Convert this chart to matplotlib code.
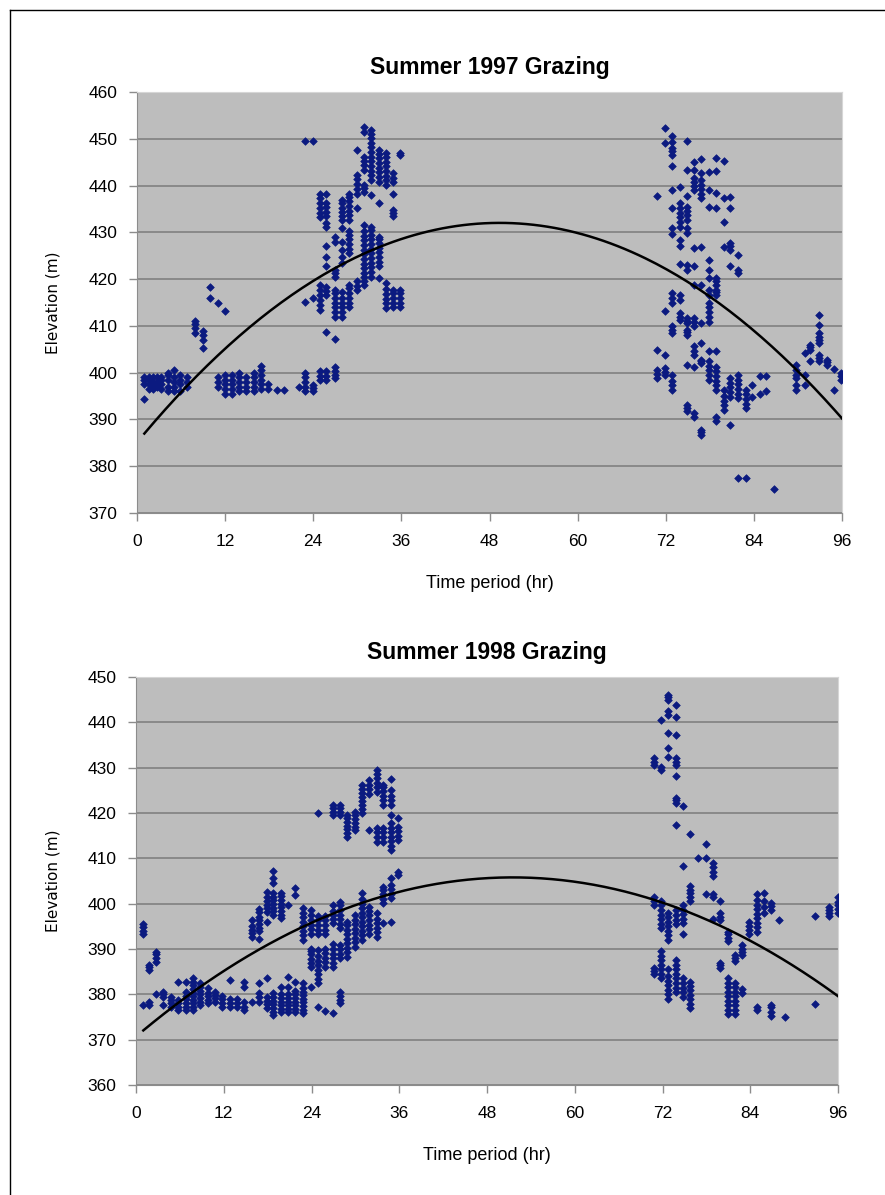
import numpy as np
import matplotlib
matplotlib.use("Agg")
import matplotlib.pyplot as plt
from matplotlib.lines import Line2D


# Summer 1997 grazing: each time (hr) has a stack of elevations (m)
t97_early = [1.0, 1.7, 2.2, 2.7, 3.3, 4.2, 5.1, 5.9, 6.8, 7.9, 9.0, 10.0, 11.0, 12.0,
             12.9, 13.9, 14.9, 15.9, 16.9, 17.8, 19.0, 20.0]
e97_early = [
    [394.4, 397.5, 398.5, 399], [396.5, 397.5, 398.5, 399], [396.5, 397.2, 398, 399],
    [397, 398, 399], [396.5, 397.5, 398.5, 399], [396, 397, 398.5, 399.5, 400],
    [396, 397, 398, 399, 400.5], [396, 397.5, 398.5, 399.5], [397, 398, 399],
    [408.5, 409.5, 410.5, 411], [405.3, 407, 408, 409], [416, 418.3],
    [397, 398, 399, 415], [395.5, 396.5, 397.5, 398.5, 399.5, 413.2],
    [395.5, 396.5, 397.5, 398.5, 399.5], [396, 397, 398, 399, 400],
    [396, 397, 398, 399], [396, 397, 398, 399, 400],
    [396.5, 397.5, 398.5, 399.5, 400.5, 401.5], [396.5, 397.5], [396.3], [396.3],
]

t97_mid = [22.0, 22.9, 24.0, 24.9, 25.8, 26.9, 27.9, 28.9, 29.9, 30.9, 31.9, 32.9,
           33.9, 34.8, 35.8]
e97_mid = [
    [396.9],
    [396, 397, 398, 399, 399.9, 415.1, 449.6],
    [396, 396.7, 397.4, 415.9, 449.6],
    [398.5, 399.2, 400.3, 413.4, 414.5, 415.6, 416.6, 417.7, 418.8, 433.2, 434.1,
     435.1, 436.2, 437.3, 438.2],
    [398.5, 399.2, 400.3, 408.8, 416.6, 417.5, 418.4, 422.7, 424.8, 427, 431.2, 432,
     433.4, 434.4, 435.5, 436.2, 438.2],
    [398.8, 399.5, 400.3, 401.3, 407.2, 412, 413, 414, 415, 416, 417, 417.7, 420.5,
     421.3, 422, 428, 429.1],
    [412, 413, 414, 415, 416, 417.3, 423.4, 424.8, 426.2, 428, 430.9, 432.6, 433.5,
     434.4, 435.3, 436.2, 437],
    [414.1, 415, 416, 417, 418, 418.8, 425.5, 426.5, 427.5, 428.5, 429.5, 430.2,
     432.6, 433.6, 434.6, 435.6, 436.6, 437.6, 438.3],
    [417.7, 418.5, 419.5, 435.1, 438.3, 439.3, 440.3, 441.3, 442.3, 447.6],
    [418.8, 419.7, 420.5, 421.3, 422.3, 423.3, 424.3, 425.3, 426.3, 427.3, 428.3,
     429.3, 430.3, 431.6, 438.7, 439.5, 440.1, 443.3, 444.3, 445.3, 446.2, 451.5, 452.6],
    [420.5, 421.5, 422.5, 423.5, 424.5, 425.5, 426.5, 427.5, 428.5, 429.5, 430.5,
     431.2, 438, 441.2, 442.2, 443.2, 444.2, 445.2, 446.2, 447.2, 448.2, 449.2, 450.2,
     451, 451.9],
    [420.2, 422.7, 423.7, 424.7, 425.7, 426.7, 427.7, 428.5, 429.1, 436.2, 440.8,
     441.8, 442.8, 443.8, 444.8, 445.8, 446.8, 447.6],
    [413.8, 414.8, 415.8, 416.8, 417.8, 419.1, 440.1, 441.1, 442.1, 443.1, 444.1,
     445.1, 446.1, 446.9],
    [414.1, 415, 416, 417, 417.7, 433.4, 434.1, 434.8, 438.3, 440.8, 441.7, 442.6],
    [414.1, 415, 416, 417, 417.7, 446.5, 447],
]

t97_late = [70.8, 71.9, 72.9, 73.9, 74.9, 75.9, 76.8, 77.9, 78.8, 79.9, 80.8, 81.8,
            82.9, 83.8, 84.8, 85.7, 86.8, 89.8, 90.9, 91.7, 92.9, 93.9, 94.9, 95.8]
e97_late = [
    [398.8, 399.7, 400.6, 404.9, 437.8],
    [399.5, 400.2, 401, 403.8, 413.1, 449.2, 452.2],
    [396.3, 397.3, 398.3, 399.5, 408.4, 409.2, 409.9, 414.8, 416, 417, 429.7, 430.9,
     435.3, 439.1, 444.2, 446.5, 447.3, 448, 449.4, 450.6],
    [411.3, 412, 412.7, 415.6, 416.6, 423.2, 427.1, 428.4, 431.2, 432.2, 433.2, 434.2,
     435.2, 436.2, 439.6],
    [391.7, 392.4, 393.1, 401.7, 408.1, 408.6, 409.1, 410.6, 411.1, 411.6, 421.9, 423,
     429.8, 430.9, 432.7, 433.6, 434.5, 435.5, 437.8, 443.3, 449.5],
    [390.6, 391.3, 401.3, 403.8, 404.7, 405.6, 409.9, 410.8, 411.6, 418.8, 422.7,
     426.6, 439.1, 439.9, 440.8, 441.6, 443.3, 445.1],
    [386.7, 387.3, 387.8, 402, 402.4, 402.7, 406.3, 410.6, 418.8, 426.9, 437.3, 438.2,
     439.2, 440.2, 441.2, 442.6, 445.6],
    [398.5, 399.5, 400.5, 401.5, 402.4, 404.7, 410.9, 412, 413, 414, 414.8, 416.6,
     417.7, 420.2, 422, 424.1, 435.5, 439.1, 443],
    [389.6, 390.6, 396.3, 397.3, 398.3, 399.3, 400.3, 401.3, 404.7, 416.6, 417.2,
     417.7, 418.8, 419.5, 420.2, 435.3, 438.5, 443.1, 445.8],
    [392, 393, 394, 395, 396.3, 426.9, 432.3, 437.3, 445.3],
    [388.9, 394.9, 395.9, 396.9, 397.8, 398.8, 422.7, 426.2, 427, 427.7, 435.3, 437.5],
    [377.4, 394.5, 395.5, 396.5, 397.5, 398.5, 399.5, 421.3, 422, 425.2],
    [377.4, 392.4, 393.4, 394.4, 395.4, 396.3],
    [394.9, 397.4], [395.5, 399.3], [396, 399.3], [375.1],
    [396.3, 397.3, 398.8, 399.5, 400.5, 401.7],
    [397.4, 399.5, 404.2],
    [402.5, 404.9, 405.4, 405.9],
    [402.4, 403.1, 403.8, 406.3, 407, 407.7, 408.4, 410.2, 412.4],
    [401.7, 402.2, 402.7], [396.3, 400.8], [398.5, 399.2, 399.9],
]

# Summer 1998 grazing
t98_early = [0.9, 1.8, 2.7, 3.7, 4.8, 5.8, 6.8, 7.8, 8.8, 9.8, 10.8, 11.8, 12.9, 13.8,
             14.8, 15.8, 16.8, 17.9, 18.8, 19.8, 20.8, 21.8]
e98_early = [
    [377.6, 393.3, 394, 394.8, 395.5],
    [377.6, 378.4, 385.3, 386, 386.5],
    [380, 387.2, 388, 388.8, 389.4],
    [377.6, 379.5, 380.1, 380.6],
    [377.3, 378, 378.8, 379.5],
    [376.5, 377.2, 378, 378.7, 382.8],
    [376.5, 377.3, 378.1, 378.9, 379.7, 380.5, 382.8],
    [376.5, 377.3, 378, 378.8, 379.6, 380.4, 381.2, 382, 382.8, 383.5],
    [377.6, 378.4, 379.2, 380, 380.8, 381.6, 382.4],
    [378, 378.8, 379.6, 380.4, 381.3],
    [378.3, 379.1, 379.9, 380.6],
    [377.3, 378.1, 378.9, 379.7],
    [377.3, 378.1, 378.9, 383.1],
    [377.3, 378.1, 378.9],
    [376.5, 377.3, 378.2, 381.7, 382.8],
    [378.2, 392.7, 393.5, 394.3, 395.1, 396.4],
    [378.2, 379.5, 380.3, 382.4, 392.3, 393.9, 394.7, 395.5, 396.3, 397.1, 398.1, 398.9],
    [377, 377.8, 378.6, 379.4, 383.5, 396, 398.2, 399, 399.8, 400.6, 401.4, 402.6],
    [375.4, 376.2, 377, 377.8, 378.6, 379.4, 380.2, 397.5, 398.3, 399.1, 399.9, 400.7,
     401.5, 402.3, 404.5, 405.7, 407.1],
    [376, 376.8, 377.6, 378.4, 379.2, 380, 381.7, 396.8, 397.6, 398.4, 399.2, 400,
     400.8, 401.6, 402.3],
    [376, 376.8, 377.6, 378.4, 379.2, 380, 381.7, 383.9, 399.7],
    [376, 376.8, 377.6, 378.4, 379.2, 380, 380.8, 382.8, 401.9, 403.4],
]

t98_mid = [22.8, 23.9, 24.9, 25.8, 26.9, 27.9, 28.9, 29.9, 30.9, 31.9, 32.9, 33.8,
           34.9, 35.8]
e98_mid = [
    [375.8, 376.6, 377.4, 378.2, 379, 379.8, 380.6, 381.4, 382.4, 392, 393, 394, 395,
     396, 397, 398, 399],
    [381.7, 386.1, 387, 387.9, 388.8, 389.6, 390.1, 393.4, 394.4, 395.4, 396.4, 397.4,
     398.6],
    [377.3, 382.4, 383.4, 384.4, 385.4, 386.4, 387.4, 388.4, 389.8, 393.3, 394.3,
     395.3, 396.3, 397.3, 420.1],
    [376.3, 386.1, 387.1, 388.1, 389.1, 390.1, 393.3, 394.3, 395.3, 396.3, 397.3],
    [375.8, 386.1, 387, 388, 389, 390, 391.2, 395.7, 396.6, 397.5, 398.4, 399.7, 419.5,
     420.3, 421, 421.8],
    [378, 378.8, 379.6, 380.6, 388, 389, 390, 390.9, 394.6, 395.6, 396.6, 397.6, 398.6,
     399.6, 400.4, 419.5, 420.3, 421, 421.8],
    [388.3, 389.3, 390.3, 391.3, 392.3, 393.3, 394.3, 395.3, 396, 414.8, 415.6, 416.4,
     417.2, 418, 418.8, 419.5],
    [390.5, 391.5, 392.5, 393.5, 394.5, 395.5, 396.5, 397.5, 416.2, 417, 417.8, 418.6,
     419.5, 420.3],
    [392, 393, 394, 395, 396, 397, 398, 399, 400, 401, 402.3, 419.9, 420.8, 421.7,
     422.6, 423.5, 424.4, 425.3, 426.2],
    [393.4, 394.4, 395.4, 396.4, 397.4, 398.4, 399.3, 416.2, 424.3, 425.2, 426.2, 427.3],
    [392.7, 393.7, 394.7, 395.7, 396.7, 397.9, 413.7, 414.7, 415.7, 416.6, 424.7,
     425.7, 426.7, 427.7, 428.6, 429.5],
    [395.7, 400.1, 401.1, 402.1, 403, 403.7, 413.7, 414.7, 415.7, 416.7, 421.8, 422.8,
     423.8, 424.8, 425.8, 426.2],
    [396, 401.2, 402.2, 403.2, 404.2, 405.6, 411.8, 412.8, 413.8, 414.8, 415.8, 416.8,
     417.7, 419.5, 421.8, 422.8, 423.8, 425, 427.4],
    [406.3, 407, 414, 415, 416, 417, 418.8],
]

t98_late = [70.8, 71.8, 72.8, 73.8, 74.8, 75.8, 76.8, 77.9, 78.9, 79.9, 80.9, 81.9,
            82.9, 83.8, 84.9, 85.9, 86.9, 87.9, 88.8, 92.9, 94.8, 96.0]
e98_late = [
    [384.5, 385.2, 385.8, 399.7, 400.5, 401.4, 430.6, 431.3, 432.1],
    [383.6, 384.5, 385.5, 386.5, 387.5, 388.5, 389.6, 394.6, 395.6, 396.6, 397.6,
     398.6, 399.6, 400.5, 429.5, 430.2, 440.5],
    [379, 380, 381, 382, 383, 384, 385.5, 392, 393, 394, 395, 396, 397, 398, 432.4,
     434.3, 437.6, 441.6, 442.4, 444.9, 445.5, 446],
    [380.5, 381.5, 382.5, 383.5, 384.5, 385.5, 386.5, 387.5, 395.5, 396.5, 397.5,
     398.5, 417.4, 422.1, 422.8, 423.4, 428.2, 430.6, 431.3, 432.1, 437.2, 441.1, 443.8],
    [379.5, 380.5, 381.5, 382.5, 383.5, 393.4, 395.7, 396.7, 397.7, 398.7, 399.7,
     408.4, 421.6],
    [376.9, 377.9, 378.9, 379.9, 380.9, 381.9, 382.8, 400.5, 401.5, 402.3, 403, 403.8,
     415.3],
    [410.1],
    [402.2, 410, 413.1],
    [396.7, 401.4, 402.2, 406, 407, 408, 409],
    [385.8, 386.4, 387, 396.3, 397.1, 397.9, 400.5],
    [375.6, 376.6, 377.6, 378.6, 379.6, 380.6, 381.6, 382.6, 383.6, 391.7, 392.5,
     393.2, 393.8],
    [375.6, 376.6, 377.6, 378.6, 379.6, 380.6, 381.6, 382.6, 387.4, 388, 388.7],
    [380.3, 381.1, 388.7, 389.4, 390.1, 390.8],
    [393.4, 394.2, 395, 395.9],
    [376.5, 377.3, 393.8, 394.8, 395.8, 396.8, 397.8, 398.8, 399.8, 400.8, 402.2],
    [397.9, 399.2, 400.5, 402.3],
    [375.2, 376.2, 377.2, 377.7, 398.5, 399.5, 400.2],
    [396.3], [374.9], [377.9, 397.2],
    [397.2, 398, 398.6, 399.3],
    [398, 398.8, 399.6, 400.4, 401.4],
]

# trend line heights every 12 hr
trend_t = [1, 12, 24, 36, 48, 60, 72, 84, 96]
trend97 = [387, 405.1, 419.6, 428.6, 432, 429.8, 422.2, 409.0, 390.2]
trend98 = [372, 385.2, 395.8, 402.6, 405.6, 404.8, 400.3, 391.8, 379.6]


def expand(ts, es):
    x = np.repeat(ts, [len(e) for e in es])
    y = np.concatenate([np.array(e, dtype=float) for e in es])
    return x, y


def stack(parts):
    xs, ys = zip(*[expand(t, e) for t, e in parts])
    return np.concatenate(xs), np.concatenate(ys)


x97, y97 = stack([(t97_early, e97_early), (t97_mid, e97_mid), (t97_late, e97_late)])
x98, y98 = stack([(t98_early, e98_early), (t98_mid, e98_mid), (t98_late, e98_late)])

W, H = 885, 1195
fonts = ["Liberation Sans", "DejaVu Sans"]
plt.rcParams["font.family"] = fonts

fig = plt.figure(figsize=(W / 100, H / 100), dpi=100)

panels = [
    # x, y, trend, title, ylim, axes box in pixels (left, top, right, bottom)
    (x97, y97, trend97, "Summer 1997 Grazing", (370, 460), (137, 92, 842, 513)),
    (x98, y98, trend98, "Summer 1998 Grazing", (360, 450), (136, 677, 838, 1085)),
]

for x, y, trend, title, ylim, box in panels:
    l, t, r, b = box
    ax = fig.add_axes([l / W, 1 - b / H, (r - l) / W, (b - t) / H])
    ax.set_facecolor("#bdbdbd")
    ax.set_axisbelow(True)
    ax.grid(axis="y", color="#858585", linewidth=1.3)

    ax.scatter(x, y, marker="D", s=15, color="#0b1a80", linewidths=0.5,
               edgecolors="#0b1a80", zorder=3)

    coef = np.polyfit(trend_t, trend, 2)
    tt = np.linspace(trend_t[0], trend_t[-1], 200)
    ax.plot(tt, np.polyval(coef, tt), color="black", linewidth=1.8, zorder=4)

    ax.set_xlim(0, 96)
    ax.set_ylim(*ylim)
    ax.set_xticks(np.arange(0, 97, 12))
    ax.set_yticks(np.arange(ylim[0], ylim[1] + 1, 10))
    ax.tick_params(axis="both", direction="out", length=6, width=1,
                   color="#8c8c8c", labelsize=12.5, pad=8)
    ax.tick_params(axis="x", pad=9)
    for side in ["left", "bottom"]:
        ax.spines[side].set_color("#8c8c8c")
    for side in ["top", "right"]:
        ax.spines[side].set_color("#d6d6d6")

    ax.set_title(title, fontsize=16.5, fontweight="bold", pad=13)
    fig.text((l + r) / 2 / W, 1 - (b + 71) / H, "Time period (hr)",
             ha="center", va="center", fontsize=13)
    fig.text(53 / W, 1 - (t + b) / 2 / H, "Elevation (m)", rotation=90,
             ha="center", va="center", fontsize=11, family="DejaVu Sans")

# thin frame on the left and top of the page
fig.add_artist(Line2D([10 / W, 10 / W], [0, 1 - 10 / H], transform=fig.transFigure,
                      color="black", linewidth=1))
fig.add_artist(Line2D([10 / W, 1], [1 - 10 / H, 1 - 10 / H], transform=fig.transFigure,
                      color="black", linewidth=1))

fig.savefig("out.png", dpi=100, facecolor="white")
